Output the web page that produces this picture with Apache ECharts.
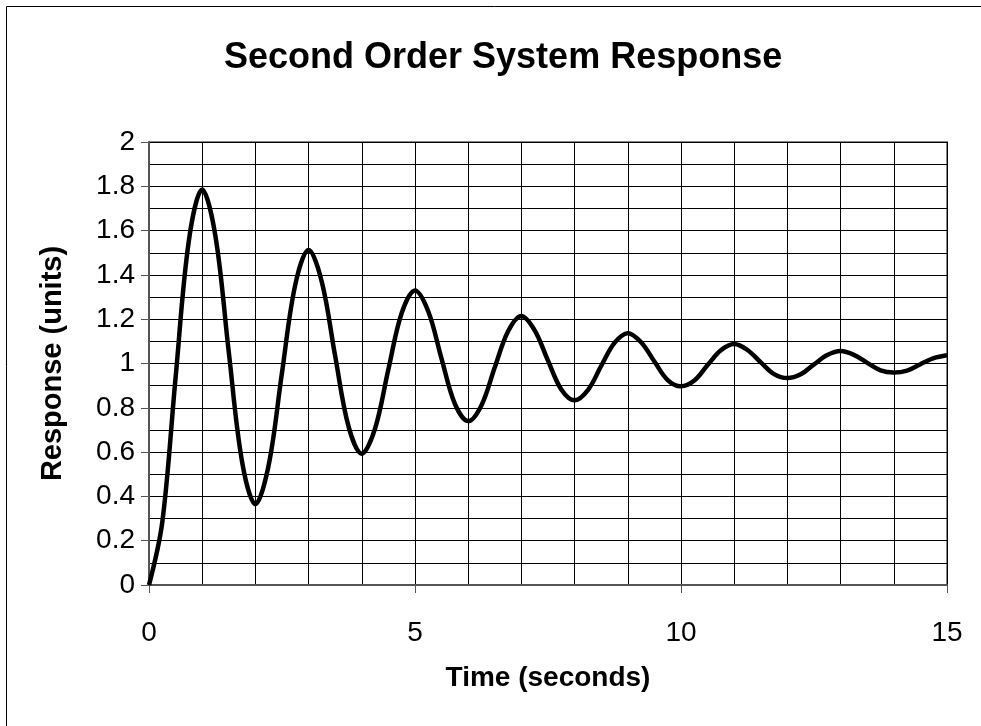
<!DOCTYPE html>
<html>
<head>
<meta charset="utf-8">
<script src="https://cdn.jsdelivr.net/npm/echarts@6/dist/echarts.min.js"></script>
<style>
html,body{margin:0;padding:0;background:#fff;}
#chart{width:981px;height:726px;}
</style>
</head>
<body>
<div id="chart"></div>
<script>
// Time samples (seconds)
var times = [0,0.25,0.5,0.75,1,1.25,1.5,1.75,2,2.25,2.5,2.75,3,3.25,3.5,3.75,4,4.25,4.5,4.75,5,5.25,5.5,5.75,6,6.25,6.5,6.75,7,7.25,7.5,7.75,8,8.25,8.5,8.75,9,9.25,9.5,9.75,10,10.25,10.5,10.75,11,11.25,11.5,11.75,12,12.25,12.5,12.75,13,13.25,13.5,13.75,14,14.25,14.5,14.75,15];
// Response values (units)
var response = [0,0.284,0.937,1.556,1.785,1.573,1.051,0.556,0.365,0.542,0.959,1.356,1.512,1.367,1.033,0.716,0.593,0.707,0.974,1.228,1.330,1.235,1.021,0.818,0.740,0.812,0.983,1.146,1.215,1.150,1.013,0.883,0.834,0.880,0.989,1.093,1.137,1.096,1.009,0.925,0.897,0.923,0.993,1.060,1.088,1.061,1.005,0.952,0.934,0.951,0.996,1.038,1.056,1.039,1.003,0.969,0.959,0.968,0.997,1.024,1.037];
var chartTitle = 'Second Order System Response';
var xName = 'Time (seconds)';
var yName = 'Response (units)';

var pts = times.map(function(t,i){return [t,response[i]];});
var chart = echarts.init(document.getElementById('chart'));
var FONT = 'Liberation Sans, Arial, sans-serif';
chart.setOption({
  animation:false,
  backgroundColor:'#fff',
  title:{text:chartTitle,left:219,top:35,textStyle:{fontFamily:FONT,fontWeight:'bold',fontSize:36,color:'#000'}},
  grid:{left:149,right:34,top:142,bottom:141},
  graphic:[
    {type:'rect',shape:{x:6.5,y:6.5,width:1200,height:1200},style:{fill:'none',stroke:'#000',lineWidth:1},silent:true},
    {type:'rect',shape:{x:149,y:142,width:798,height:443},style:{fill:'none',stroke:'#888',lineWidth:2},silent:true,z:-1}
  ],
  xAxis:{type:'value',min:0,max:15,interval:5,
    name:xName,nameLocation:'middle',nameGap:79,
    nameTextStyle:{fontFamily:FONT,fontWeight:'bold',fontSize:28,color:'#000'},
    axisLine:{show:true,lineStyle:{color:'#555',width:2}},
    axisTick:{show:true,inside:false,length:8,lineStyle:{color:'#555'}},
    axisLabel:{fontFamily:FONT,fontSize:28,color:'#000',margin:34},
    splitLine:{show:true,lineStyle:{color:'#000',width:1}},
    minorTick:{show:false,splitNumber:5},
    minorSplitLine:{show:true,lineStyle:{color:'#000',width:1}}
  },
  yAxis:{type:'value',min:0,max:2,interval:0.2,
    name:yName,nameLocation:'middle',nameGap:82,
    nameTextStyle:{fontFamily:FONT,fontWeight:'bold',fontSize:29,color:'#000'},
    axisLine:{show:true,lineStyle:{color:'#555',width:2}},
    axisTick:{show:true,inside:false,length:8,lineStyle:{color:'#555'}},
    axisLabel:{fontFamily:FONT,fontSize:28,color:'#000',margin:14},
    splitLine:{show:true,lineStyle:{color:'#000',width:1}},
    minorTick:{show:false,splitNumber:2},
    minorSplitLine:{show:true,lineStyle:{color:'#000',width:1}}
  },
  series:[{type:'line',data:pts,smooth:0.35,showSymbol:false,
    lineStyle:{color:'#000',width:4.5},itemStyle:{color:'#000'}}]
});
</script>
</body>
</html>
